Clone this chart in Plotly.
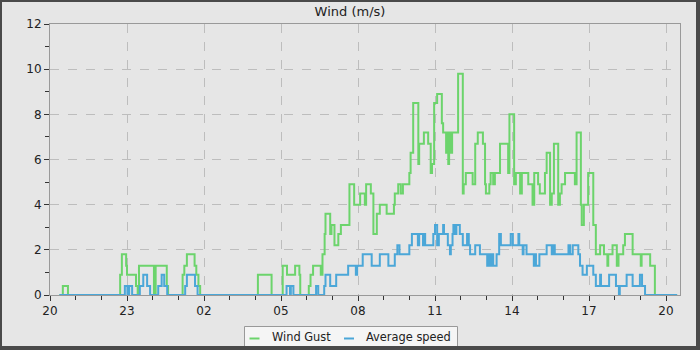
import pandas as pd
import plotly.graph_objects as go

START = pd.Timestamp("2024-05-01 20:00")

# Step change times (minutes after 20:00) and values (m/s)
gust_min = [22, 30, 42, 164, 168, 178, 180, 201, 205, 208, 243, 247, 273, 276,
            310, 314, 320, 338, 342, 347, 351, 486, 518, 544, 554, 573, 583, 585,
            605, 609, 615, 633, 637, 642, 644, 655, 658, 665, 674, 680, 700, 711,
            725, 736, 739, 750, 756, 764, 771, 787, 804, 806, 814, 820, 825, 840,
            843, 849, 861, 863, 874, 884, 890, 893, 898, 905, 916, 919, 926, 928,
            931, 933, 937, 940, 954, 965, 967, 972, 988, 994, 1000, 1012, 1017,
            1019, 1027, 1030, 1036, 1040, 1052, 1071, 1074, 1085, 1089, 1099,
            1103, 1118, 1128, 1132, 1141, 1145, 1157, 1161, 1169, 1173, 1178,
            1188, 1192, 1196, 1204, 1227, 1231, 1241, 1243, 1248, 1258, 1270,
            1276, 1286, 1295, 1303, 1305, 1315, 1325, 1329, 1340, 1344, 1362,
            1381, 1383, 1403, 1414, 1466]
gust_val = [0, 0.4, 0, 0.9, 1.8, 1.3, 0.9, 0.4, 0, 1.3, 0, 1.3, 0.4, 0,
            0.9, 1.3, 1.8, 1.3, 0.9, 0.4, 0, 0.9, 0, 1.3, 0.9, 1.3, 0.9, 0,
            0.4, 0.9, 1.3, 0.9, 1.8, 2.7, 3.6, 2.7, 3.1, 2.2, 2.7, 3.1, 4.9, 4.0,
            4.5, 4.0, 4.9, 4.5, 2.7, 3.6, 4.0, 3.6, 4.0, 4.5, 4.9, 4.5, 4.9, 5.4,
            6.3, 8.5, 5.8, 6.7, 7.2, 6.7, 5.4, 5.8, 8.5, 8.9, 7.6, 7.2, 6.3, 7.2,
            5.8, 7.2, 6.3, 7.2, 9.8, 4.5, 4.9, 5.4, 4.9, 6.7, 7.2, 6.7, 4.9,
            4.5, 4.9, 5.4, 4.9, 5.4, 6.7, 5.4, 8.0, 4.9, 5.4, 4.5,
            5.4, 4.9, 4.0, 5.4, 4.9, 4.5, 5.4, 6.3, 4.0, 4.5, 6.7,
            4.0, 4.5, 4.9, 5.4, 4.9, 7.2, 4.0, 3.1, 4.0, 5.4, 3.1,
            1.8, 2.2, 1.8, 1.3, 1.8, 2.2, 1.3, 1.8, 2.2, 2.7, 1.8,
            1.3, 1.8, 1.3, 0, 0]

avg_min = [22, 175, 181, 185, 192, 210, 218, 227, 234, 253, 261, 267, 274,
           316, 320, 339, 345, 553, 561, 563, 569, 622, 627, 641, 644, 655, 669,
           697, 715, 718, 731, 752, 771, 791, 806, 812, 817, 840, 846, 860, 863,
           872, 874, 877, 896, 900, 905, 909, 919, 921, 930, 935, 937, 941, 943,
           947, 950, 958, 965, 975, 979, 982, 994, 1005, 1022, 1026, 1029, 1033,
           1036, 1044, 1050, 1054, 1077, 1082, 1095, 1097, 1105, 1107, 1114,
           1131, 1134, 1136, 1144, 1161, 1173, 1177, 1180, 1212, 1216, 1222,
           1235, 1239, 1245, 1255, 1270, 1276, 1286, 1288, 1307, 1323, 1330,
           1332, 1348, 1362, 1379, 1384, 1391, 1466]
avg_val = [0, 0.4, 0, 0.4, 0, 0.4, 0.9, 0.4, 0, 0.4, 0.9, 0.4, 0,
           0.4, 0.9, 0.4, 0, 0.4, 0, 0.4, 0, 0.4, 0, 0.4, 0.9, 0.4, 0.9,
           1.3, 0.9, 1.3, 1.8, 1.3, 1.8, 1.3, 1.8, 2.2, 1.8, 2.2, 2.7, 2.2, 2.7,
           2.2, 2.7, 2.2, 2.7, 3.1, 2.2, 2.7, 3.1, 2.7, 2.2, 1.8, 2.2, 2.7, 3.1,
           2.7, 3.1, 2.7, 2.2, 2.7, 2.2, 1.8, 2.2, 1.8, 1.3, 1.8, 1.3, 1.8,
           1.3, 1.8, 2.7, 2.2, 2.7, 2.2, 2.7, 2.2, 1.8, 2.2, 1.8,
           1.3, 1.8, 1.3, 1.8, 2.2, 1.8, 2.2, 1.8, 2.2, 1.8, 2.2,
           1.8, 1.3, 0.9, 1.3, 0.9, 0.4, 0.9, 0.4, 0.9, 0.4, 0,
           0.4, 0.9, 0.4, 0.9, 0.4, 0, 0]

series_names = ["Wind Gust", "Average speed"]
series_colors = ["#6cd46c", "#4ba7d8"]
x_tick_fmt = "%H"
y_tick_vals = [0, 2, 4, 6, 8, 10, 12]

gust_t = [START + pd.Timedelta(minutes=m) for m in gust_min]
avg_t = [START + pd.Timedelta(minutes=m) for m in avg_min]

W, H = 700, 350
ML, MR, MT, MB = 50, 20, 24, 55
PW, PH = W - ML - MR, H - MT - MB

fig = go.Figure()
fig.add_trace(go.Scatter(x=gust_t, y=gust_val, mode="lines", name=series_names[0],
                         showlegend=False,
                         line=dict(color=series_colors[0], width=2, shape="hv")))
fig.add_trace(go.Scatter(x=avg_t, y=avg_val, mode="lines", name=series_names[1],
                         showlegend=False,
                         line=dict(color=series_colors[1], width=2, shape="hv")))


def px_x(p):
    return (p - ML) / PW


def px_y(p):
    return (H - MB - p) / PH


# Legend box (drawn by hand to match the compact reference legend)
fig.add_shape(type="rect", xref="paper", yref="paper",
              x0=px_x(244.5), x1=px_x(457.5), y0=px_y(347.5), y1=px_y(326.5),
              line=dict(color="#999999", width=1), fillcolor="#f5f5f5", layer="above")
leg_sym_x = [249.5, 344.0]
leg_txt_x = [269.5, 364.0]
for i in range(2):
    fig.add_shape(type="line", xref="paper", yref="paper",
                  x0=px_x(leg_sym_x[i]), x1=px_x(leg_sym_x[i] + 10),
                  y0=px_y(338.5), y1=px_y(338.5),
                  line=dict(color=series_colors[i], width=2), layer="above")
    fig.add_annotation(text=series_names[i], xref="paper", yref="paper",
                       x=px_x(leg_txt_x[i]), y=px_y(337), xanchor="left",
                       yanchor="middle", showarrow=False,
                       font=dict(size=11.4, color="#222222"))

# Outer frame (dark, slightly thicker at right/bottom)
fig.add_shape(type="rect", xref="paper", yref="paper",
              x0=px_x(1), x1=px_x(W - 1), y0=px_y(H - 1), y1=px_y(1),
              line=dict(color="#4a4a4a", width=2), fillcolor="rgba(0,0,0,0)",
              layer="above")
fig.add_shape(type="line", xref="paper", yref="paper",
              x0=px_x(W - 3), x1=px_x(W - 3), y0=px_y(H), y1=px_y(0),
              line=dict(color="#4a4a4a", width=2), layer="above")
fig.add_shape(type="line", xref="paper", yref="paper",
              x0=px_x(0), x1=px_x(W), y0=px_y(H - 3), y1=px_y(H - 3),
              line=dict(color="#4a4a4a", width=2), layer="above")

x_end = START + pd.Timedelta(minutes=PW * 180 / 77)

fig.update_layout(
    width=W, height=H,
    margin=dict(l=ML, r=MR, t=MT, b=MB, autoexpand=False),
    paper_bgcolor="#e6e6e6", plot_bgcolor="#e6e6e6",
    font=dict(family="DejaVu Sans", size=12, color="#222222"),
    title=dict(text="Wind (m/s)", x=0.5, xref="container", xanchor="center",
               y=1 - 11 / H, yref="container", yanchor="middle",
               font=dict(size=13, color="#222222")),
    showlegend=False,
    xaxis=dict(type="date", range=[START, x_end], tick0=START, dtick=3 * 3600000,
               tickformat=x_tick_fmt, ticks="outside", ticklen=5, tickcolor="#333333",
               showline=True, linecolor="#999999", linewidth=1, mirror=True,
               showgrid=True, gridcolor="#bdbdbd", griddash="dash", gridwidth=1,
               minor=dict(dtick=3600000, ticks="outside", ticklen=4, tickcolor="#333333",
                          showgrid=False),
               zeroline=False, automargin=False),
    yaxis=dict(range=[0, 12], tickvals=y_tick_vals, ticks="outside", ticklen=5,
               tickcolor="#333333",
               showline=True, linecolor="#999999", linewidth=1, mirror=True,
               showgrid=True, gridcolor="#bdbdbd", griddash="dash", gridwidth=1,
               minor=dict(dtick=1, ticks="outside", ticklen=4, tickcolor="#333333",
                          showgrid=False),
               zeroline=False, automargin=False),
)

fig.write_html("out.html")
